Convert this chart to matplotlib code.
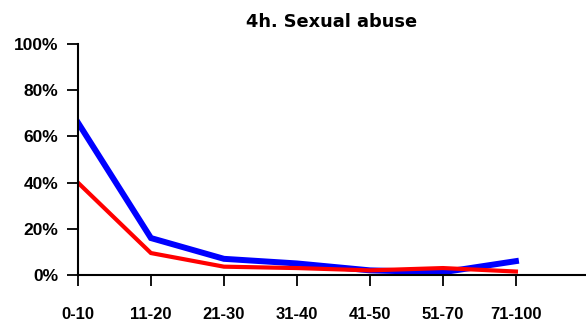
import matplotlib
matplotlib.use("Agg")
import matplotlib.pyplot as plt
from matplotlib.ticker import FuncFormatter

categories = ["0-10", "11-20", "21-30", "31-40", "41-50", "51-70", "71-100"]
blue_values = [66, 16, 7, 5, 2, 1.2, 6]
red_values = [40, 9.5, 3.6, 3, 2, 3, 1.5]
yticks = [0, 20, 40, 60, 80, 100]

plt.rcParams['font.family'] = ['Liberation Sans', 'DejaVu Sans']

fig = plt.figure(figsize=(5.86, 3.22), dpi=100)
ax = fig.add_axes([0.133, 0.146, 0.867, 0.717])

x = list(range(len(categories)))
ax.plot(x, blue_values, color="#0000ff", lw=4.3, solid_joinstyle="miter")
ax.plot(x, red_values, color="#ff0000", lw=3.0, solid_joinstyle="miter")

ax.set_xlim(0, 6.96)
ax.set_ylim(0, 100)
ax.set_xticks(x)
ax.set_xticklabels(categories, fontsize=12, fontweight="bold")
ax.set_yticks(yticks)
ax.yaxis.set_major_formatter(FuncFormatter(lambda v, p: f"{int(v)}%"))
for lbl in ax.get_yticklabels():
    lbl.set_fontweight("bold")
    lbl.set_fontsize(12.5)

ax.spines["top"].set_visible(False)
ax.spines["right"].set_visible(False)
for s in ("left", "bottom"):
    ax.spines[s].set_linewidth(1.5)
ax.tick_params(axis="x", length=8, width=1.3, pad=15)
ax.tick_params(axis="y", length=8, width=1.3, pad=6)

ax.set_title("4h. Sexual abuse", fontsize=12.8, fontweight="bold", pad=12,
             family=["DejaVu Sans"])

fig.savefig("out.png", dpi=100)
